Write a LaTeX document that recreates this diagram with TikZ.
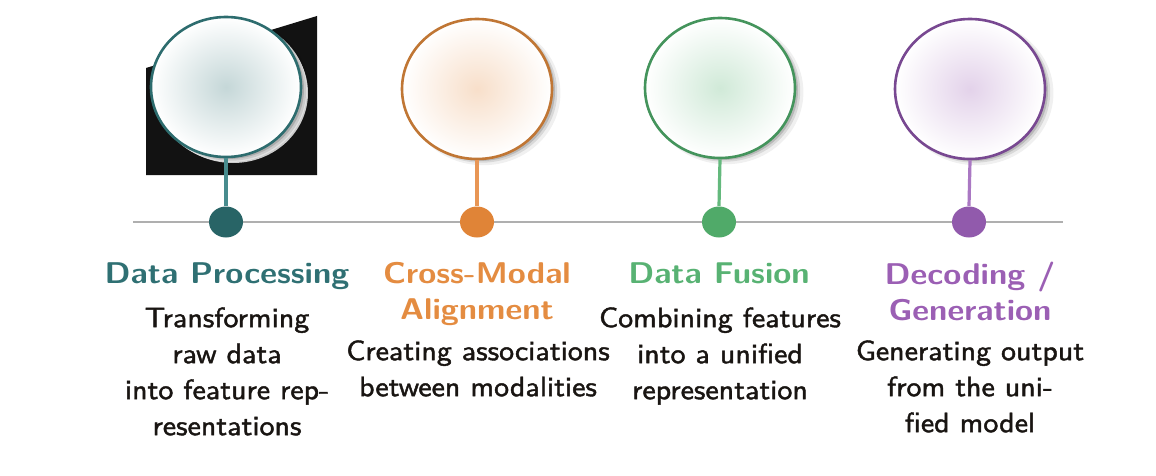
\documentclass[tikz,border=0pt]{standalone}
\usepackage{fontspec}
\newfontfamily\bodyff[FakeBold=1.5]{lmsans10-regular.otf}
\usetikzlibrary{shapes.geometric,shadows}
\definecolor{tealT}{RGB}{47,112,115}
\definecolor{tealD}{RGB}{40,100,102}
\definecolor{tealO}{RGB}{45,108,110}
\definecolor{tealS}{RGB}{72,140,142}
\definecolor{oranT}{RGB}{228,140,65}
\definecolor{oranD}{RGB}{224,132,55}
\definecolor{oranO}{RGB}{192,118,52}
\definecolor{oranS}{RGB}{232,150,85}
\definecolor{greeT}{RGB}{88,178,115}
\definecolor{greeD}{RGB}{80,170,105}
\definecolor{greeO}{RGB}{68,148,92}
\definecolor{greeS}{RGB}{100,185,125}
\definecolor{purpT}{RGB}{155,95,180}
\definecolor{purpD}{RGB}{145,90,172}
\definecolor{purpO}{RGB}{120,72,145}
\definecolor{purpS}{RGB}{170,120,195}
\definecolor{bodyC}{RGB}{25,21,18}
\definecolor{lineC}{RGB}{175,175,175}
\newcommand{\titlefnt}{\fontsize{15}{18}\selectfont\sffamily\bfseries}
\newcommand{\bodyfnt}{\fontsize{14}{18}\selectfont\bodyff}
\tikzset{
  bigcirc/.style={ellipse, draw=#1O, line width=1.3pt, minimum width=75pt, minimum height=70pt,
    inner sep=0pt, shading=radial, inner color=#1T!28, outer color=white,
    general shadow={fill=black, opacity=0.06, shadow xshift=3pt, shadow yshift=-2pt, shadow scale=1.03},
    general shadow={fill=black, opacity=0.10, shadow xshift=2.2pt, shadow yshift=-1.5pt, shadow scale=1.01},
    general shadow={fill=black, opacity=0.15, shadow xshift=1.5pt, shadow yshift=-1pt}},
  dotnode/.style={ellipse, fill=#1D, minimum width=17pt, minimum height=15.5pt, inner sep=0pt},
  stem/.style={draw=#1S, line width=1.6pt},
  titletext/.style={anchor=north, inner sep=0pt, align=center, text=#1T, font=\titlefnt, xscale=1.09},
  bodytext/.style={anchor=north, inner sep=0pt, align=center, text=bodyC, font=\bodyfnt, xscale=1.07},
  timeline/.style={draw=lineC, line width=1pt}
}
\begin{document}
\begin{tikzpicture}[x=0.5pt,y=-0.5pt]
\useasboundingbox (0,0) rectangle (1156,476);
% rendering artifact behind the first circle
\fill[black!93] (146,68) -- (317,16) -- (317,175) -- (146,175) -- cycle;
\fill[gray!30] (233,93) ellipse [x radius=75, y radius=70];
\fill[gray!12] (231,91) ellipse [x radius=76, y radius=71];
% timeline
\coordinate (tl) at (133,222);
\coordinate (tr) at (1063,222);
\draw[timeline] (tl) -- (tr);
% circles
\node[bigcirc=teal] (c1) at (226,87) {};
\node[bigcirc=oran] (c2) at (477,89) {};
\node[bigcirc=gree] (c3) at (720,88) {};
\node[bigcirc=purp] (c4) at (970,89) {};
% dots
\node[dotnode=teal] (d1) at (226,222) {};
\node[dotnode=oran] (d2) at (477,222) {};
\node[dotnode=gree] (d3) at (719,222) {};
\node[dotnode=purp] (d4) at (969,222) {};
% stems
\draw[stem=teal] (c1.south) -- (d1.north);
\draw[stem=oran] (c2.south) -- (d2.north);
\draw[stem=gree] (c3.south) -- (d3.north);
\draw[stem=purp] (c4.south) -- (d4.north);
% titles
\node[titletext=teal] (t1) at (227,262) {Data Processing};
\node[titletext=oran] (t2) at (477,262) {Cross-Modal\\Alignment};
\node[titletext=gree] (t3) at (719,262) {Data Fusion};
\node[titletext=purp] (t4) at (970,262) {Decoding /\\Generation};
% bodies
\node[bodytext] (b1) at (227,307) {Transforming\\raw data\\into feature rep-\\resentations};
\node[bodytext] (b2) at (478,340) {Creating associations\\between modalities};
\node[bodytext] (b3) at (720,307) {Combining features\\into a unified\\representation};
\node[bodytext] (b4) at (970,340) {Generating output\\from the uni-\\fied model};
\end{tikzpicture}
\end{document}
